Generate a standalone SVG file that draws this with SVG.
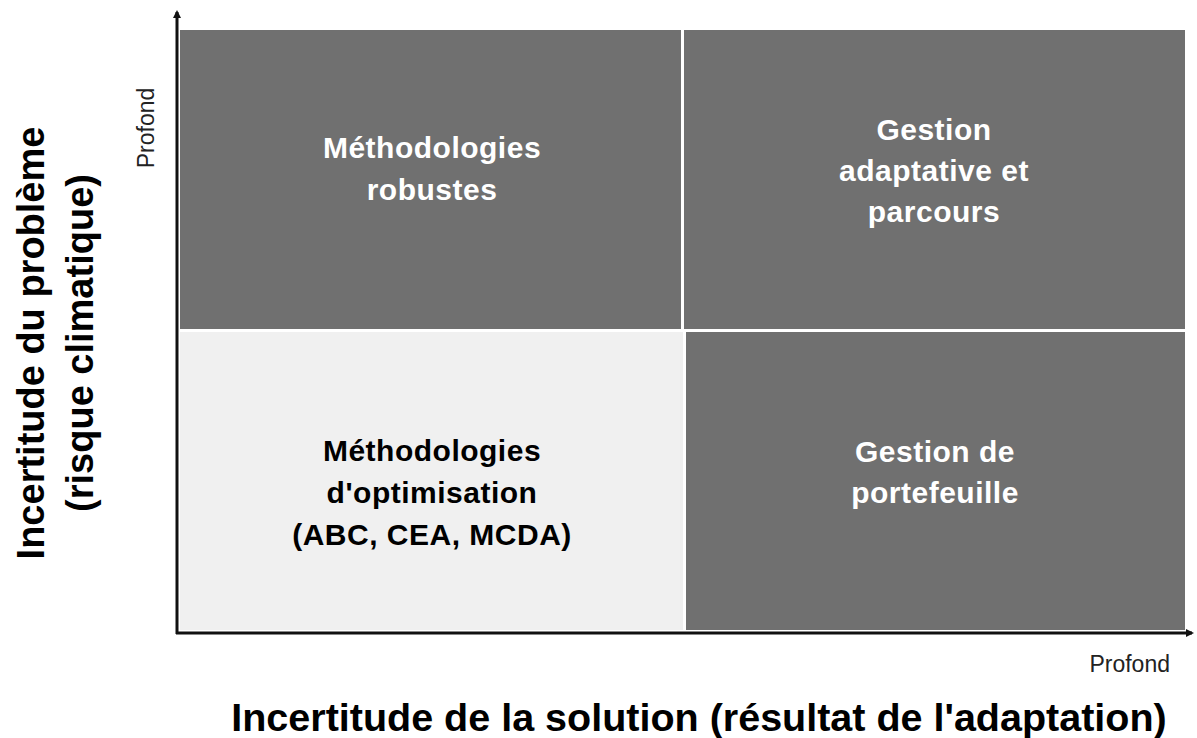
<svg xmlns="http://www.w3.org/2000/svg" width="1197" height="738" viewBox="0 0 1197 738">
<style>
.dark{fill:#707070}
.light{fill:#f0f0f0}
.t{font-family:"Liberation Sans",Arial,sans-serif;font-weight:bold;font-size:30px;letter-spacing:0.5px;text-anchor:middle}
.w{fill:#ffffff}
.b{fill:#000000}
.ax{font-family:"Liberation Sans",Arial,sans-serif;font-size:23px;fill:#222}
.big{font-family:"Liberation Sans",Arial,sans-serif;font-weight:bold;font-size:38px;fill:#000;text-anchor:middle}
.xl{font-size:39.5px}
.axis{stroke:#111;stroke-width:3;fill:none}
</style>
<defs>
<marker id="ah" markerWidth="8" markerHeight="8" refX="6" refY="4" orient="auto" markerUnits="userSpaceOnUse">
<path d="M0,0 L8,4 L0,8 z" fill="#111"/>
</marker>
</defs>
<rect width="1197" height="738" fill="#ffffff"/>
<g id="cell-robustes">
<rect class="dark" x="180" y="30" width="501" height="299"/>
<text class="t w" x="432" y="158">Méthodologies</text>
<text class="t w" x="432" y="200">robustes</text>
</g>
<g id="cell-adaptative">
<rect class="dark" x="684" y="30" width="501" height="299"/>
<text class="t w" x="934" y="140">Gestion</text>
<text class="t w" x="934" y="181">adaptative et</text>
<text class="t w" x="934" y="222">parcours</text>
</g>
<g id="cell-optimisation">
<rect class="light" x="180" y="332" width="503" height="298"/>
<text class="t b" x="432" y="461">Méthodologies</text>
<text class="t b" x="432" y="503">d'optimisation</text>
<text class="t b" x="432" y="545">(ABC, CEA, MCDA)</text>
</g>
<g id="cell-portefeuille">
<rect class="dark" x="686" y="332" width="499" height="298"/>
<text class="t w" x="935" y="462">Gestion de</text>
<text class="t w" x="935" y="503">portefeuille</text>
</g>
<g id="connectors">
<line class="axis" x1="177" y1="634" x2="177" y2="12" marker-end="url(#ah)"/>
<line class="axis" x1="176" y1="633" x2="1192" y2="633" marker-end="url(#ah)"/>
</g>
<g id="labels">
<text class="ax" transform="translate(154,128) rotate(-90)" text-anchor="middle">Profond</text>
<text class="ax" x="1170" y="672" text-anchor="end">Profond</text>
<text class="big" transform="translate(44,343) rotate(-90)">Incertitude du problème</text>
<text class="big" transform="translate(93,343) rotate(-90)">(risque climatique)</text>
<text class="big xl" x="699" y="731">Incertitude de la solution (résultat de l'adaptation)</text>
</g>
</svg>
